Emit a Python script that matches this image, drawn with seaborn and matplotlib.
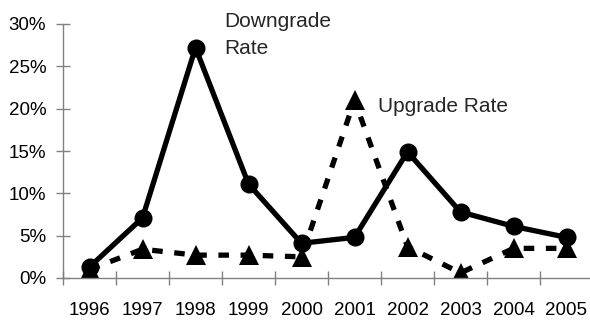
import matplotlib
matplotlib.use("Agg")
import matplotlib.pyplot as plt
from matplotlib.ticker import PercentFormatter, FixedLocator
import pandas as pd
import seaborn as sns

years = [1996, 1997, 1998, 1999, 2000, 2001, 2002, 2003, 2004, 2005]
downgrade = [1.3, 7.1, 27.2, 11.1, 4.1, 4.8, 14.9, 7.8, 6.1, 4.8]
upgrade = [1.0, 3.4, 2.7, 2.7, 2.5, 21.0, 3.7, 0.6, 3.5, 3.5]

df = pd.DataFrame({"year": years, "downgrade": downgrade, "upgrade": upgrade})

sns.set_theme(style="white")
plt.rcParams["font.family"] = ["Liberation Sans", "DejaVu Sans"]

fig = plt.figure(figsize=(5.9, 3.2), dpi=100)
ax = fig.add_axes([63 / 590, 42 / 320, 530 / 590, 254 / 320])

sns.lineplot(data=df, x="year", y="upgrade", ax=ax, color="black", lw=3.8,
             ls=(0, (2.0, 2.2)), marker="^", markersize=14, markeredgewidth=0)
sns.lineplot(data=df, x="year", y="downgrade", ax=ax, color="black", lw=3.8,
             marker="o", markersize=13, markeredgewidth=0)

ax.set_xlim(years[0] - 0.5, years[-1] + 0.5)
ax.set_ylim(0, 30)
ax.yaxis.set_major_locator(FixedLocator([0, 5, 10, 15, 20, 25, 30]))
ax.yaxis.set_major_formatter(PercentFormatter(xmax=100, decimals=0))
ax.set_xticks(years)
ax.set_xticklabels([str(y) for y in years])
ax.set_xticks([y - 0.5 for y in years] + [years[-1] + 0.5], minor=True)
ax.tick_params(axis="x", which="major", length=0, pad=17, labelsize=13.5, colors="black")
ax.tick_params(axis="x", which="minor", direction="inout", length=10, width=1,
               color="#808080", bottom=True)
ax.tick_params(axis="y", direction="inout", length=10, width=1, color="#808080",
               pad=7, labelsize=13.5, labelcolor="black", left=True)
ax.set(xlabel="", ylabel="")

for side in ["top", "right"]:
    ax.spines[side].set_visible(False)
for side in ["left", "bottom"]:
    ax.spines[side].set_color("#808080")
    ax.spines[side].set_linewidth(1)

ax.text(1998.54, 29.6, "Downgrade", fontsize=15, clip_on=False)
ax.text(1998.54, 26.5, "Rate", fontsize=15, clip_on=False)
ax.text(2001.44, 19.6, "Upgrade Rate", fontsize=15)

fig.savefig("out.png", dpi=100)
